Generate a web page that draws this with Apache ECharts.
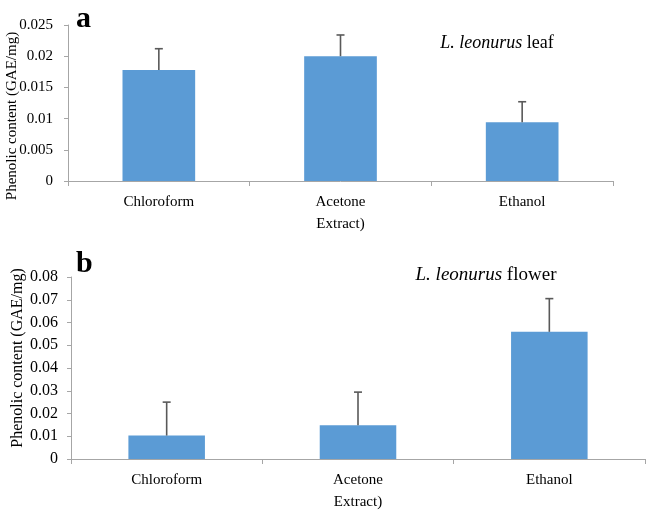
<!DOCTYPE html>
<html>
<head>
<meta charset="utf-8">
<script src="https://cdn.jsdelivr.net/npm/echarts@6/dist/echarts.min.js"></script>
<style>
html,body{margin:0;padding:0;background:#fff;}
#c{width:646px;height:513px;}
</style>
</head>
<body>
<div id="c"></div>
<script>
var categories = ['Chloroform', 'Acetone\nExtract)', 'Ethanol'];
var leafValues = [0.0178, 0.0200, 0.0094];
var leafErrorTops = [0.0212, 0.0234, 0.0127];
var flowerValues = [0.0103, 0.0148, 0.0559];
var flowerErrorTops = [0.0250, 0.0294, 0.0705];
var leafTicks = {min: 0, max: 0.025, interval: 0.005};
var flowerTicks = {min: 0, max: 0.08, interval: 0.01};

var FONT = '"Liberation Serif", "Times New Roman", serif';
var AXIS_COLOR = '#a6a6a6';
var BAR_COLOR = '#5b9bd5';
var ERR_COLOR = '#595959';

function errData(vals, tops) {
  return vals.map(function (v, i) { return [i, v, tops[i]]; });
}
function errRender(params, api) {
  var i = api.value(0);
  var p0 = api.coord([i, api.value(1)]);
  var p1 = api.coord([i, api.value(2)]);
  var style = {stroke: ERR_COLOR, lineWidth: 1.6};
  return {
    type: 'group',
    children: [
      {type: 'line', shape: {x1: p0[0], y1: p0[1], x2: p1[0], y2: p1[1]}, style: style},
      {type: 'line', shape: {x1: p1[0] - 4, y1: p1[1], x2: p1[0] + 4, y2: p1[1]}, style: style}
    ]
  };
}
function xAxis(gi, fs) {
  return {
    type: 'category', gridIndex: gi, data: categories,
    axisLine: {lineStyle: {color: AXIS_COLOR, width: 1}},
    axisTick: {show: true, length: 5, lineStyle: {color: AXIS_COLOR}},
    axisLabel: {color: '#000', fontFamily: FONT, fontSize: fs, margin: 10, lineHeight: 22}
  };
}
function yAxis(gi, t, fs, m) {
  return {
    type: 'value', gridIndex: gi, min: t.min, max: t.max, interval: t.interval,
    axisLine: {show: true, lineStyle: {color: AXIS_COLOR, width: 1}},
    axisTick: {show: true, length: 4, lineStyle: {color: AXIS_COLOR}},
    splitLine: {show: false},
    axisLabel: {color: '#000', fontFamily: FONT, fontSize: fs, margin: m}
  };
}

var chart = echarts.init(document.getElementById('c'), null, {renderer: 'canvas'});
chart.setOption({
  animation: false,
  backgroundColor: '#fff',
  grid: [
    {left: 68, top: 25, right: 33, bottom: 332},
    {left: 71, top: 277, right: 1, bottom: 50}
  ],
  xAxis: [xAxis(0, 15), xAxis(1, 15)],
  yAxis: [yAxis(0, leafTicks, 15, 15), yAxis(1, flowerTicks, 16, 13)],
  series: [
    {type: 'bar', xAxisIndex: 0, yAxisIndex: 0, data: leafValues, barWidth: '40%',
     itemStyle: {color: BAR_COLOR}},
    {type: 'custom', xAxisIndex: 0, yAxisIndex: 0, data: errData(leafValues, leafErrorTops),
     renderItem: errRender, z: 5},
    {type: 'bar', xAxisIndex: 1, yAxisIndex: 1, data: flowerValues, barWidth: '40%',
     itemStyle: {color: BAR_COLOR}},
    {type: 'custom', xAxisIndex: 1, yAxisIndex: 1, data: errData(flowerValues, flowerErrorTops),
     renderItem: errRender, z: 5}
  ],
  graphic: [
    {type: 'text', left: 76, top: 4, style: {text: 'a', font: 'bold 30px ' + FONT, fill: '#000'}},
    {type: 'text', left: 76, top: 249, style: {text: 'b', font: 'bold 30px ' + FONT, fill: '#000'}},
    {type: 'text', x: 497, y: 43, style: {
      text: '{i|L. leonurus} leaf', align: 'center', verticalAlign: 'middle',
      font: '18px ' + FONT, fill: '#000',
      rich: {i: {fontStyle: 'italic', fontFamily: FONT, fontSize: 18}}}},
    {type: 'text', x: 486, y: 275, style: {
      text: '{i|L. leonurus} flower', align: 'center', verticalAlign: 'middle',
      font: '19px ' + FONT, fill: '#000',
      rich: {i: {fontStyle: 'italic', fontFamily: FONT, fontSize: 19}}}},
    {type: 'text', x: 12, y: 116, rotation: Math.PI / 2, style: {
      text: 'Phenolic content (GAE/mg)', align: 'center', verticalAlign: 'middle',
      font: '15px ' + FONT, fill: '#000'}},
    {type: 'text', x: 18, y: 358, rotation: Math.PI / 2, style: {
      text: 'Phenolic content (GAE/mg)', align: 'center', verticalAlign: 'middle',
      font: '16px ' + FONT, fill: '#000'}}
  ]
});
</script>
</body>
</html>
